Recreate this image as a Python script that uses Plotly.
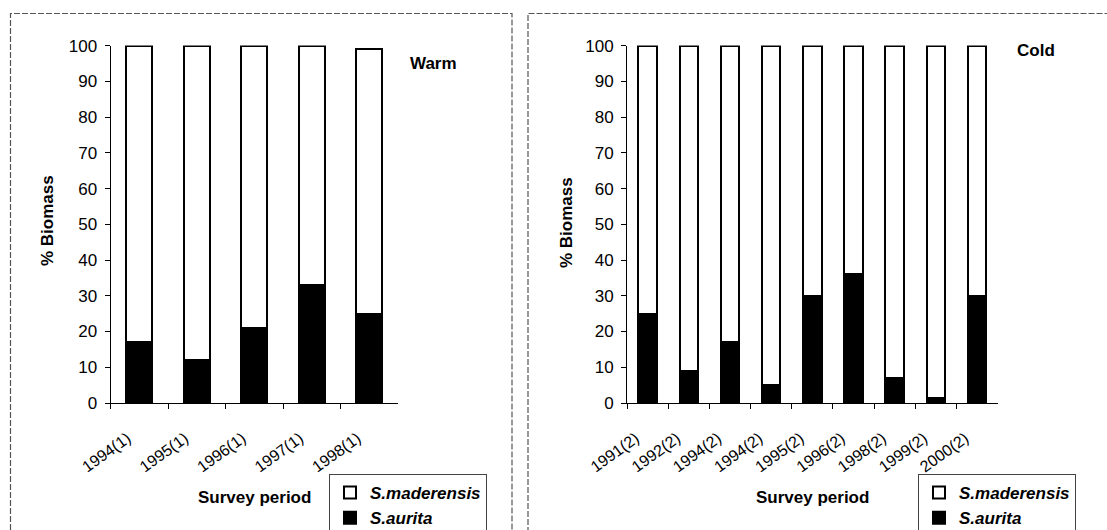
import plotly.graph_objects as go

# ---------------- data ----------------
warm_periods = ["1994(1)", "1995(1)", "1996(1)", "1997(1)", "1998(1)"]
warm_aurita = [17, 12, 21, 33, 25]
warm_maderensis = [83, 88, 79, 67, 74]

cold_periods = ["1991(2)", "1992(2)", "1994(2)", "1994(2)", "1995(2)",
                "1996(2)", "1998(2)", "1999(2)", "2000(2)"]
cold_aurita = [25, 9, 17, 5, 30, 36, 7, 1.3, 30]
cold_maderensis = [75, 91, 83, 95, 70, 64, 93, 98.7, 70]

y_ticks = [0, 10, 20, 30, 40, 50, 60, 70, 80, 90, 100]

W, H = 1107, 530
FONT = "Liberation Sans, Arial, sans-serif"


def unique_cats(labels):
    """Keep duplicate labels (e.g. two '1994(2)') as separate categories."""
    seen = {}
    out = []
    for lab in labels:
        n = seen.get(lab, 0)
        out.append(lab + "\u200b" * n)
        seen[lab] = n + 1
    return out


def px(x):
    return x / W


def py(y):
    return 1 - y / H


fig = go.Figure()

panels = [
    (unique_cats(warm_periods), warm_aurita, warm_maderensis, "x", "y", "legend"),
    (unique_cats(cold_periods), cold_aurita, cold_maderensis, "x2", "y2", "legend2"),
]
for cats, aur, mad, xa, ya, lg in panels:
    fig.add_trace(go.Bar(
        x=cats, y=aur, name="S.aurita", xaxis=xa, yaxis=ya, legend=lg,
        marker=dict(color="black", line=dict(color="black", width=2)),
        width=0.45, cliponaxis=False, legendgroup=lg + "a",
    ))
    fig.add_trace(go.Bar(
        x=cats, y=mad, name="S.maderensis", xaxis=xa, yaxis=ya, legend=lg,
        marker=dict(color="white", line=dict(color="black", width=2)),
        width=0.45, cliponaxis=False, legendgroup=lg + "m",
    ))

xcommon = dict(type="category", tickson="boundaries", ticks="outside", ticklen=5,
               tickcolor="black", showline=True, linecolor="black", linewidth=1,
               tickangle=-36, tickfont=dict(family=FONT, size=16, color="black"),
               ticklabelstandoff=19, ticklabelshift=-12,
               showgrid=False, zeroline=False, automargin=False)
ycommon = dict(range=[0, 100], tickvals=y_ticks, ticks="outside", ticklen=5,
               tickcolor="black", showline=True, linecolor="black", linewidth=1,
               tickfont=dict(family=FONT, size=17, color="black"),
               ticklabelstandoff=4,
               showgrid=False, zeroline=False, automargin=False)

ydom = [py(403), py(45.6)]

legcommon = dict(xref="container", yref="container", xanchor="left", yanchor="top",
                 bordercolor="#444", borderwidth=1, itemwidth=30,
                 bgcolor="white", traceorder="reversed", tracegroupgap=9,
                 font=dict(family=FONT, size=17, color="black", weight="bold", style="italic"))

fig.update_layout(
    width=W, height=H,
    margin=dict(l=0, r=0, t=0, b=0, autoexpand=False),
    paper_bgcolor="white", plot_bgcolor="white",
    barmode="stack",
    font=dict(family=FONT, color="black"),
    xaxis=dict(domain=[px(110.5), px(398)], anchor="y", **xcommon),
    yaxis=dict(domain=ydom, anchor="x", **ycommon),
    xaxis2=dict(domain=[px(627), px(997.6)], anchor="y2", **xcommon),
    yaxis2=dict(domain=ydom, anchor="x2", **ycommon),
    legend=dict(x=px(329), y=py(474), **legcommon),
    legend2=dict(x=px(918), y=py(474), **legcommon),
)

bold = dict(family=FONT, size=17, color="black", weight="bold")
annots = [
    ("Warm", 433, 63.5, 0),
    ("Cold", 1036, 50.7, 0),
    ("% Biomass", 47, 221, -90),
    ("% Biomass", 566, 223, -90),
    ("Survey period", 254, 497, 0),
    ("Survey period", 812, 497, 0),
]
for text, ax_, ay_, ang in annots:
    fig.add_annotation(text=text, x=px(ax_), y=py(ay_), xref="paper", yref="paper",
                       xanchor="center", yanchor="middle", showarrow=False,
                       textangle=ang, font=bold)

# panel frames (scanned figure borders)
frame = dict(color="#555", width=1.2, dash="6px,2px")
fig.add_shape(type="rect", xref="paper", yref="paper",
              x0=px(10.5), x1=px(512), y0=py(540), y1=py(13.5), line=frame, layer="below")
fig.add_shape(type="rect", xref="paper", yref="paper",
              x0=px(528), x1=px(1120), y0=py(540), y1=py(13.5), line=frame, layer="below")

fig.write_html("out.html")
